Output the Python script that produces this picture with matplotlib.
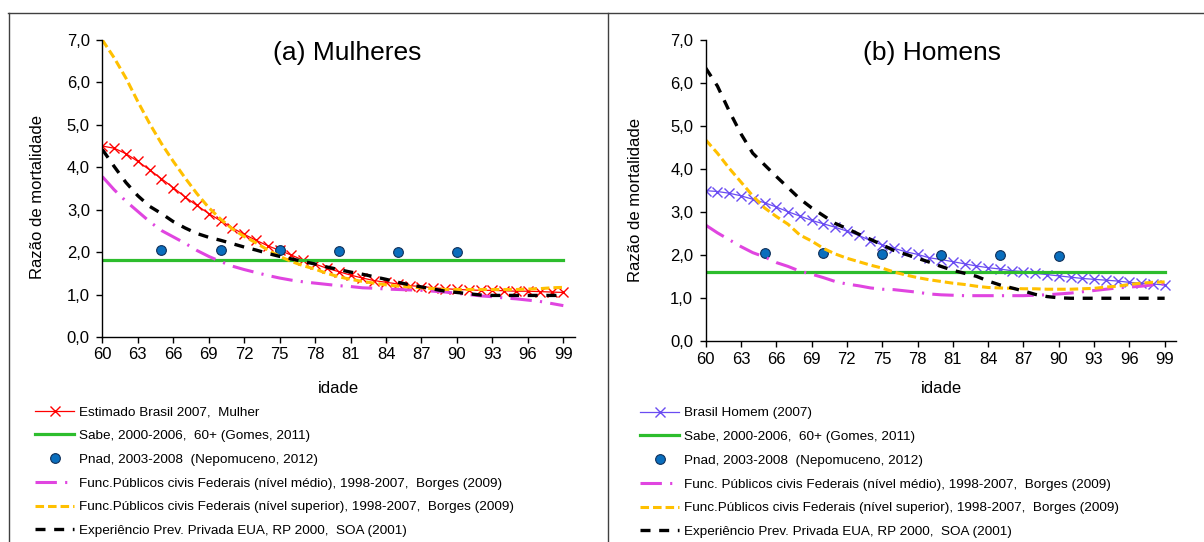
import matplotlib
matplotlib.use("Agg")
import matplotlib.pyplot as plt
from matplotlib.lines import Line2D

plt.rcParams['font.family'] = ['Liberation Sans', 'DejaVu Sans']

# idades 60..99
idade = list(range(60, 100))
idade_pnad = [65, 70, 75, 80, 85, 90]
ticks_x = list(range(60, 100, 3))
ticks_y = [0, 1, 2, 3, 4, 5, 6, 7]

# (a) Mulheres
brasil_mulher = [4.50, 4.45, 4.32, 4.14, 3.94, 3.73, 3.52, 3.30, 3.10, 2.91,
                 2.74, 2.57, 2.42, 2.28, 2.15, 2.04, 1.93, 1.81, 1.72, 1.62,
                 1.54, 1.46, 1.39, 1.33, 1.29, 1.25, 1.21, 1.19, 1.16, 1.14,
                 1.12, 1.11, 1.10, 1.10, 1.09, 1.08, 1.08, 1.07, 1.06, 1.05]
sabe_mulher = 1.82
pnad_mulher = [2.05, 2.05, 2.04, 2.03, 2.01, 2.00]
medio_mulher = [3.78, 3.47, 3.20, 2.96, 2.72, 2.51, 2.36, 2.21, 2.04, 1.90,
                1.78, 1.67, 1.59, 1.52, 1.45, 1.39, 1.34, 1.30, 1.27, 1.24,
                1.21, 1.19, 1.16, 1.15, 1.13, 1.12, 1.11, 1.10, 1.08, 1.06,
                1.03, 1.00, 0.97, 0.95, 0.92, 0.90, 0.87, 0.84, 0.79, 0.74]
superior_mulher = [7.00, 6.58, 6.10, 5.55, 5.03, 4.56, 4.14, 3.75, 3.38, 3.05,
                   2.78, 2.55, 2.37, 2.22, 2.05, 1.90, 1.78, 1.68, 1.60, 1.50,
                   1.42, 1.36, 1.31, 1.27, 1.23, 1.20, 1.18, 1.16, 1.14, 1.12,
                   1.12, 1.12, 1.12, 1.12, 1.12, 1.12, 1.13, 1.14, 1.16, 1.17]
soa_mulher = [4.42, 4.02, 3.64, 3.33, 3.08, 2.91, 2.72, 2.57, 2.44, 2.35,
              2.28, 2.20, 2.12, 2.05, 1.97, 1.90, 1.84, 1.78, 1.72, 1.65,
              1.59, 1.53, 1.48, 1.42, 1.36, 1.29, 1.23, 1.18, 1.13, 1.08,
              1.05, 1.02, 0.99, 0.98, 0.98, 0.98, 0.98, 0.98, 0.98, 0.98]

# (b) Homens
brasil_homem = [3.50, 3.48, 3.44, 3.38, 3.30, 3.22, 3.12, 3.01, 2.91, 2.81,
                2.73, 2.65, 2.56, 2.46, 2.34, 2.24, 2.16, 2.08, 2.02, 1.94,
                1.90, 1.85, 1.80, 1.75, 1.71, 1.68, 1.64, 1.62, 1.58, 1.55,
                1.52, 1.49, 1.46, 1.44, 1.42, 1.40, 1.37, 1.35, 1.33, 1.31]
sabe_homem = 1.62
pnad_homem = [2.04, 2.04, 2.03, 2.00, 2.00, 1.99]
medio_homem = [2.70, 2.52, 2.36, 2.20, 2.06, 1.96, 1.83, 1.74, 1.63, 1.56,
               1.48, 1.39, 1.33, 1.29, 1.24, 1.21, 1.20, 1.17, 1.14, 1.10,
               1.08, 1.07, 1.06, 1.06, 1.06, 1.06, 1.06, 1.06, 1.07, 1.08,
               1.10, 1.12, 1.15, 1.18, 1.21, 1.24, 1.26, 1.28, 1.31, 1.33]
superior_homem = [4.68, 4.37, 4.02, 3.70, 3.38, 3.10, 2.90, 2.72, 2.47, 2.33,
                  2.16, 2.03, 1.93, 1.85, 1.77, 1.70, 1.61, 1.54, 1.48, 1.43,
                  1.39, 1.35, 1.32, 1.28, 1.25, 1.24, 1.23, 1.22, 1.22, 1.21,
                  1.21, 1.21, 1.22, 1.23, 1.26, 1.28, 1.32, 1.35, 1.37, 1.38]
soa_homem = [6.35, 5.93, 5.35, 4.82, 4.37, 4.10, 3.83, 3.57, 3.31, 3.10,
             2.92, 2.74, 2.62, 2.49, 2.37, 2.24, 2.11, 2.02, 1.93, 1.84,
             1.74, 1.65, 1.58, 1.51, 1.40, 1.31, 1.24, 1.17, 1.09, 1.04,
             1.01, 1.00, 1.00, 1.00, 1.00, 1.00, 1.00, 1.00, 1.00, 1.00]

labels_mulher = ["Estimado Brasil 2007,  Mulher",
                 "Sabe, 2000-2006,  60+ (Gomes, 2011)",
                 "Pnad, 2003-2008  (Nepomuceno, 2012)",
                 "Func.Públicos civis Federais (nível médio), 1998-2007,  Borges (2009)",
                 "Func.Públicos civis Federais (nível superior), 1998-2007,  Borges (2009)",
                 "Experiêncio Prev. Privada EUA, RP 2000,  SOA (2001)"]
labels_homem = ["Brasil Homem (2007)",
                "Sabe, 2000-2006,  60+ (Gomes, 2011)",
                "Pnad, 2003-2008  (Nepomuceno, 2012)",
                "Func. Públicos civis Federais (nível médio), 1998-2007,  Borges (2009)",
                "Func.Públicos civis Federais (nível superior), 1998-2007,  Borges (2009)",
                "Experiêncio Prev. Privada EUA, RP 2000,  SOA (2001)"]


def painel(ax, titulo, brasil, cor_brasil, sabe, pnad, medio, superior, soa, labels,
           title_x, legend_anchor, ylabel_x, xlabel_y):
    h = []
    h += ax.plot(idade, brasil, color=cor_brasil, lw=0.9, marker='x', ms=6.5, mew=1)
    h += ax.plot(idade, [sabe] * len(idade), color='#2dbd2d', lw=2.3)
    h += ax.plot(idade_pnad, pnad, ls='none', marker='o', ms=7,
                 mfc='#0a6ebd', mec='#10305a', mew=0.8)
    h += ax.plot(idade, medio, color='#e045e0', lw=2.2,
                 ls=(0, (7.0, 2.7, 0.7, 2.7)))
    h += ax.plot(idade, superior, color='#ffc000', lw=2.2, ls=(0, (2.8, 1.3)))
    h += ax.plot(idade, soa, color='black', lw=2.4, ls=(0, (3.0, 2.6)))

    ax.set_xlim(60, 100)
    ax.set_ylim(0, 7)
    ax.set_xticks(ticks_x)
    ax.set_yticks(ticks_y)
    ax.set_yticklabels([f"{v:.1f}".replace('.', ',') for v in ticks_y])
    ax.tick_params(axis='both', direction='out', length=4, width=1, labelsize=12)
    ax.tick_params(axis='y', pad=5)
    for s in ['top', 'right']:
        ax.spines[s].set_visible(False)
    for s in ['left', 'bottom']:
        ax.spines[s].set_linewidth(1)
    ax.set_ylabel("Razão de mortalidade", fontsize=12)
    ax.set_xlabel("idade", fontsize=12)
    ax.yaxis.set_label_coords(ylabel_x, 0.47)
    ax.xaxis.set_label_coords(0.5, xlabel_y)
    ax.text(title_x, 0.957, titulo, transform=ax.transAxes, fontsize=19,
            ha='center', va='center')
    ax.legend(h, labels, loc='upper left', bbox_to_anchor=legend_anchor,
              bbox_transform=ax.figure.transFigure, frameon=False, fontsize=9.7,
              borderpad=0, borderaxespad=0, handlelength=2.9, handletextpad=0.35,
              labelspacing=0.84, numpoints=1)


fig = plt.figure(figsize=(12.04, 5.42), dpi=100)
ax1 = fig.add_axes([0.0850, 0.3782, 0.3927, 0.548])
ax2 = fig.add_axes([0.5861, 0.3703, 0.3910, 0.5559])

painel(ax1, "(a) Mulheres", brasil_mulher, '#ff0000', sabe_mulher, pnad_mulher,
       medio_mulher, superior_mulher, soa_mulher, labels_mulher,
       0.5176, (35 / 1204, 1 - 406 / 542), -0.121, -0.148)
painel(ax2, "(b) Homens", brasil_homem, '#6a4cf2', sabe_homem, pnad_homem,
       medio_homem, superior_homem, soa_homem, labels_homem,
       0.4807, (640 / 1204, 1 - 407 / 542), -0.133, -0.131)

# moldura dos paineis
borda = '#404040'
fig.add_artist(Line2D([8 / 1204, 1], [1 - 12.5 / 542] * 2, color=borda, lw=1))
fig.add_artist(Line2D([8.5 / 1204] * 2, [0, 1 - 12.5 / 542], color=borda, lw=1))
fig.add_artist(Line2D([607.5 / 1204] * 2, [0, 1 - 12.5 / 542], color=borda, lw=1))

fig.savefig("out.png", dpi=100)
